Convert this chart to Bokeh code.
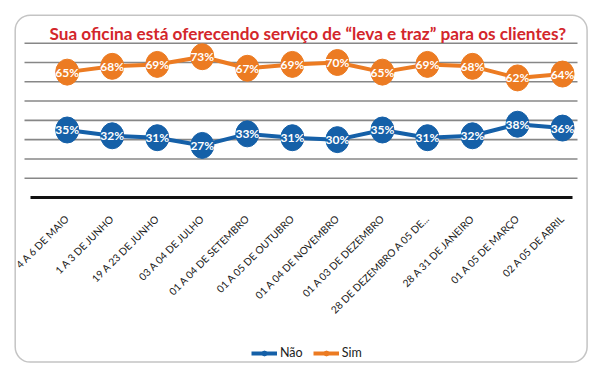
import math
from bokeh.plotting import figure
from bokeh.models import Range1d, Legend, LegendItem, Label, BoxAnnotation
from bokeh.core.properties import value
from bokeh.embed import file_html
from bokeh.resources import INLINE

# ---- data ----
periods = ["4 A 6 DE MAIO", "1 A 3 DE JUNHO", "19 A 23 DE JUNHO", "03 A 04 DE JULHO",
           "01 A 04 DE SETEMBRO", "01 A 05 DE OUTUBRO", "01 A 04 DE NOVEMBRO",
           "01 A 03 DE DEZEMBRO", "28 DE DEZEMBRO A 05 DE...", "28 A 31 DE JANEIRO",
           "01 A 05 DE MARÇO", "02 A 05 DE ABRIL"]
nao = [35, 32, 31, 27, 33, 31, 30, 35, 31, 32, 38, 36]
sim = [65, 68, 69, 73, 67, 69, 70, 65, 69, 68, 62, 64]
grid_values = [10, 20, 30, 40, 50, 60, 70, 80]
title_text = "Sua oficina está oferecendo serviço de “leva e traz” para os clientes?"

FONT = "Lato"
BLUE = "#1560a8"
ORANGE = "#ec7b22"

# ---- layout (canvas pixels) ----
W, H = 597, 377
XPX, X0PX = 45.03, 66.7      # px per category, canvas x of first category
YPX, Y0PX = 1.92875, 197.0   # px per percent point, canvas y of 0 %

idx = list(range(len(periods)))


def dx(px):
    return idx[0] + (px - X0PX) / XPX


def dy(px):
    return (Y0PX - px) / YPX


LABEL_Y = dy(216)

nao_lbl = [f"{v}%" for v in nao]
sim_lbl = [f"{v}%" for v in sim]

p = figure(width=W, height=H, output_backend="svg", toolbar_location=None,
           x_range=Range1d(dx(0), dx(W)), y_range=Range1d(dy(H), dy(0)),
           x_axis_location=None, y_axis_location=None,
           min_border_left=0, min_border_right=0, min_border_top=0, min_border_bottom=0)
p.outline_line_color = None
p.background_fill_color = "white"
p.border_fill_color = "white"
p.grid.visible = False

# rounded outer frame
p.add_layout(BoxAnnotation(left=dx(14.7), right=dx(586.6), top=dy(14.7), bottom=dy(361.6),
                           fill_alpha=0, line_color="#3a3a3a", line_width=1.5,
                           border_radius=15))

# title
p.add_layout(Label(x=dx(49), y=dy(32.5), text=title_text, text_align="left",
                   text_baseline="alphabetic", text_color="#d3262b",
                   text_font=FONT, text_font_size="17.2px", text_font_style="bold"))

# grid lines and baseline
n = len(grid_values)
p.segment(x0=[dx(24)] * n, x1=[dx(577)] * n, y0=grid_values, y1=grid_values,
          line_color="#878787", line_width=1.6)
p.segment(x0=[dx(30)], x1=[dx(572)], y0=[0], y1=[0], line_color="#111111", line_width=3)

# category labels, rotated 45 degrees
p.text(idx, [LABEL_Y] * len(idx), text=periods, angle=math.pi / 4,
       text_align="right", text_baseline="middle", x_offset=0,
       text_color="#1a1a1a", text_font=value(FONT), text_font_size="10.2px")

# series
ln_sim = p.line(idx, sim, line_width=4, color=ORANGE)
ln_nao = p.line(idx, nao, line_width=4, color=BLUE)
dot_sim = p.scatter(idx, sim, size=7, color=ORANGE)
dot_nao = p.scatter(idx, nao, size=7, color=BLUE)
p.ellipse(idx, sim, width=23, height=26, width_units="screen", height_units="screen",
          fill_color=ORANGE, line_color=ORANGE)
p.ellipse(idx, nao, width=23, height=26, width_units="screen", height_units="screen",
          fill_color=BLUE, line_color=BLUE)
p.text(idx, sim, text=sim_lbl, text_align="center", text_baseline="middle",
       text_color="white", text_font=value(FONT), text_font_style="bold",
       text_font_size="12px")
p.text(idx, nao, text=nao_lbl, text_align="center", text_baseline="middle",
       text_color="white", text_font=value(FONT), text_font_style="bold",
       text_font_size="12px")

legend = Legend(items=[LegendItem(label="Não", renderers=[ln_nao, dot_nao]),
                       LegendItem(label="Sim", renderers=[ln_sim, dot_sim])],
                orientation="horizontal", location=(251, 17),
                border_line_color=None, background_fill_alpha=0,
                label_text_font=FONT, label_text_font_size="12.5px",
                label_text_color="#222222", glyph_width=26, glyph_height=12,
                spacing=10, padding=0, margin=0, label_standoff=3)
p.add_layout(legend, "center")

open("out.html", "w").write(file_html(p, INLINE))
